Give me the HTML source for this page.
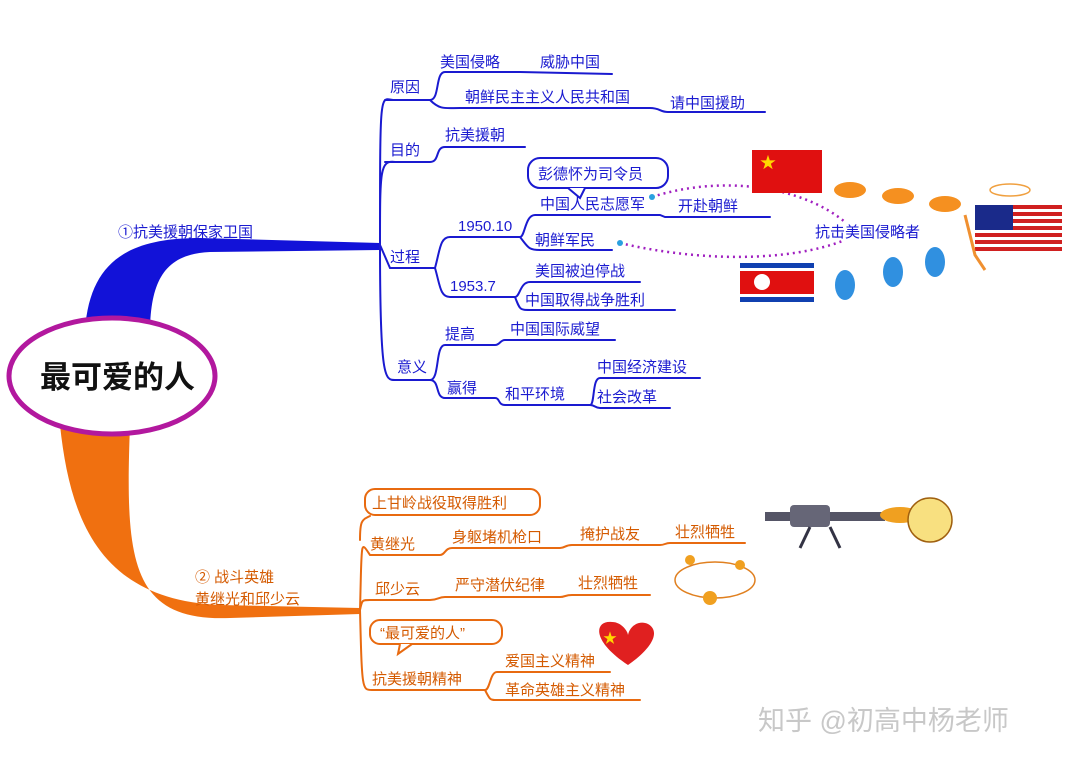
<!DOCTYPE html>
<html><head><meta charset="utf-8"><style>
html,body{margin:0;padding:0;background:#fff}
svg{display:block}
text{font-family:"Liberation Sans","Noto Sans CJK SC",sans-serif}
.b{fill:#1a1ad0;font-size:15px}
.o{fill:#d45a00;font-size:15px}
.bl{stroke:#1a1ad0;stroke-width:2;fill:none;stroke-linecap:round}
.ol{stroke:#e86a10;stroke-width:2;fill:none;stroke-linecap:round}
</style></head><body>
<svg width="1080" height="764" viewBox="0 0 1080 764" xmlns="http://www.w3.org/2000/svg">
<rect width="1080" height="764" fill="#fff"/>
<!-- main branches -->
<path d="M85,330 C90,260 130,238 200,238 L380,243 L380,250 L210,252 C165,254 150,280 150,335 Z" fill="#1212d8"/>
<path d="M60,425 C70,520 100,600 220,605 L360,608 L360,614 L230,618 C130,622 125,560 130,425 Z" fill="#f07010"/>
<ellipse cx="112" cy="376" rx="103" ry="58" fill="#fff" stroke="#b2189e" stroke-width="5"/>
<text x="40" y="388" style="font-size:31px;font-weight:bold;fill:#111">最可爱的人</text>
<text x="118" y="237" class="b">①抗美援朝保家卫国</text>
<text x="195" y="582" class="o">② 战斗英雄</text>
<text x="195" y="604" class="o">黄继光和邱少云</text>
<!-- blue tree -->
<path class="bl" d="M380,245 C380,80 380,100 395,100 M380,245 C380,170 380,160 395,162 M380,245 C380,380 385,380 395,380 M380,245 L390,268 L435,268"/>
<path class="bl" d="M385,100 L430,100 C440,100 435,72 445,72 L520,72 L612,74 M430,100 C440,110 445,108 460,108 L650,108 C660,108 660,112 668,112 L765,112"/>
<path class="bl" d="M385,162 L430,162 C440,162 435,147 445,147 L525,147"/>
<path class="bl" d="M435,268 C440,250 440,237 450,237 L520,237 C525,237 525,215 535,215 L660,215 L665,217 L770,217 M520,237 C528,247 528,250 540,250 L612,250 M435,268 C440,285 440,297 450,297 L515,297 C520,297 520,282 530,282 L640,282 M515,297 C520,310 520,310 530,310 L675,310"/>
<path class="bl" d="M395,380 L430,380 C440,380 435,345 445,345 L495,345 C500,345 500,340 505,340 L615,340 M430,380 C440,380 435,398 445,398 L495,398 C500,398 498,405 505,405 L590,405 C595,405 592,378 600,378 L700,378 M590,405 C595,405 595,408 600,408 L670,408"/>
<text x="390" y="92" class="b">原因</text>
<text x="390" y="155" class="b">目的</text>
<text x="390" y="262" class="b">过程</text>
<text x="397" y="372" class="b">意义</text>
<text x="440" y="67" class="b">美国侵略</text>
<text x="540" y="67" class="b">威胁中国</text>
<text x="465" y="102" class="b">朝鲜民主主义人民共和国</text>
<text x="670" y="108" class="b">请中国援助</text>
<text x="445" y="140" class="b">抗美援朝</text>
<rect x="528" y="158" width="140" height="30" rx="12" fill="#fff" stroke="#1a1ad0" stroke-width="2"/>
<path d="M568,188 L580,198 L585,188" fill="#fff" stroke="#1a1ad0" stroke-width="2"/>
<text x="538" y="179" class="b">彭德怀为司令员</text>
<text x="458" y="231" class="b">1950.10</text>
<text x="540" y="209" class="b">中国人民志愿军</text>
<text x="678" y="211" class="b">开赴朝鲜</text>
<text x="535" y="245" class="b">朝鲜军民</text>
<text x="450" y="291" class="b">1953.7</text>
<text x="535" y="276" class="b">美国被迫停战</text>
<text x="525" y="305" class="b">中国取得战争胜利</text>
<text x="445" y="339" class="b">提高</text>
<text x="510" y="334" class="b">中国国际威望</text>
<text x="447" y="393" class="b">赢得</text>
<text x="505" y="399" class="b">和平环境</text>
<text x="597" y="372" class="b">中国经济建设</text>
<text x="597" y="402" class="b">社会改革</text>
<path d="M652,197 C720,175 800,185 845,222" stroke="#a020c0" stroke-width="2.5" stroke-dasharray="2,4" fill="none"/>
<path d="M620,243 C700,262 790,262 845,240" stroke="#a020c0" stroke-width="2.5" stroke-dasharray="2,4" fill="none"/>
<circle cx="652" cy="197" r="3" fill="#2aa0e0"/><circle cx="620" cy="243" r="3" fill="#2aa0e0"/>
<text x="815" y="237" class="b">抗击美国侵略者</text>
<!-- flags -->
<rect x="752" y="150" width="70" height="43" fill="#e01010"/>
<text x="760" y="168" style="fill:#ffd800;font-size:16px">★</text>
<rect x="740" y="263" width="74" height="39" fill="#1040b0"/>
<rect x="740" y="268" width="74" height="29" fill="#fff"/>
<rect x="740" y="271" width="74" height="23" fill="#e01010"/>
<circle cx="762" cy="282" r="8" fill="#fff"/>
<g>
<rect x="975" y="205" width="87" height="47" fill="#fff"/>
<rect x="975" y="205" width="87" height="4" fill="#d02020"/><rect x="975" y="212" width="87" height="4" fill="#d02020"/><rect x="975" y="219" width="87" height="4" fill="#d02020"/><rect x="975" y="226" width="87" height="4" fill="#d02020"/><rect x="975" y="233" width="87" height="4" fill="#d02020"/><rect x="975" y="240" width="87" height="4" fill="#d02020"/><rect x="975" y="247" width="87" height="4" fill="#d02020"/>
<rect x="975" y="205" width="38" height="25" fill="#1a2a8a"/>
</g>
<g fill="#f59020">
<ellipse cx="850" cy="190" rx="16" ry="8"/><ellipse cx="898" cy="196" rx="16" ry="8"/><ellipse cx="945" cy="204" rx="16" ry="8"/>
</g>
<g fill="#3090e0">
<ellipse cx="845" cy="285" rx="10" ry="15"/><ellipse cx="893" cy="272" rx="10" ry="15"/><ellipse cx="935" cy="262" rx="10" ry="15"/>
</g>
<path d="M965,215 L975,255 L985,270" stroke="#f09030" stroke-width="3" fill="none"/>
<ellipse cx="1010" cy="190" rx="20" ry="6" fill="none" stroke="#f0a040" stroke-width="1.5"/>
<!-- orange tree -->
<path class="ol" d="M360,610 C362,540 360,540 370,555 L440,555 C445,555 445,548 452,548 L560,548 C565,548 565,545 572,545 L660,545 C665,545 665,543 670,543 L745,543"/>
<path class="ol" d="M360,610 C362,600 362,600 370,600 L430,600 C438,600 438,597 445,597 L560,597 C565,597 565,595 572,595 L650,595"/>
<path class="ol" d="M360,610 C362,690 362,690 372,690 L485,690 C490,690 490,672 497,672 L610,672 M485,690 C490,700 490,700 497,700 L640,700"/>
<path class="ol" d="M360,540 C360,520 362,520 370,516"/>
<rect x="365" y="489" width="175" height="26" rx="10" fill="#fff" stroke="#e86a10" stroke-width="2"/>
<text x="372" y="508" class="o">上甘岭战役取得胜利</text>
<text x="370" y="549" class="o">黄继光</text>
<text x="452" y="542" class="o">身躯堵机枪口</text>
<text x="580" y="539" class="o">掩护战友</text>
<text x="675" y="537" class="o">壮烈牺牲</text>
<text x="375" y="594" class="o">邱少云</text>
<text x="455" y="590" class="o">严守潜伏纪律</text>
<text x="578" y="588" class="o">壮烈牺牲</text>
<rect x="370" y="620" width="132" height="24" rx="10" fill="#fff" stroke="#e86a10" stroke-width="2"/>
<path d="M400,644 L398,654 L412,644" fill="#fff" stroke="#e86a10" stroke-width="2"/>
<text x="380" y="638" class="o">“最可爱的人”</text>
<text x="372" y="684" class="o">抗美援朝精神</text>
<text x="505" y="666" class="o">爱国主义精神</text>
<text x="505" y="695" class="o">革命英雄主义精神</text>
<path d="M628,665 C590,640 595,620 612,622 C622,622 628,632 628,635 C630,625 640,620 648,624 C662,632 650,650 628,665 Z" fill="#e02020"/>
<text x="603" y="643" style="fill:#ffd800;font-size:14px">★</text>
<!-- gun and decorations -->
<rect x="765" y="512" width="120" height="9" fill="#556"/>
<rect x="790" y="505" width="40" height="22" rx="4" fill="#667"/>
<path d="M810,527 L800,548 M830,527 L840,548" stroke="#334" stroke-width="3"/>
<ellipse cx="900" cy="515" rx="20" ry="8" fill="#f0a020"/>
<circle cx="930" cy="520" r="22" fill="#f8e080" stroke="#a06010" stroke-width="1.5"/>
<ellipse cx="715" cy="580" rx="40" ry="18" fill="none" stroke="#e08020" stroke-width="1.5"/>
<circle cx="710" cy="598" r="7" fill="#f0a020"/><circle cx="740" cy="565" r="5" fill="#f0a020"/><circle cx="690" cy="560" r="5" fill="#f0a020"/>
<text x="758" y="730" style="font-size:27px;fill:#c8c8c8">知乎 @初高中杨老师</text>
</svg>
</body></html>
